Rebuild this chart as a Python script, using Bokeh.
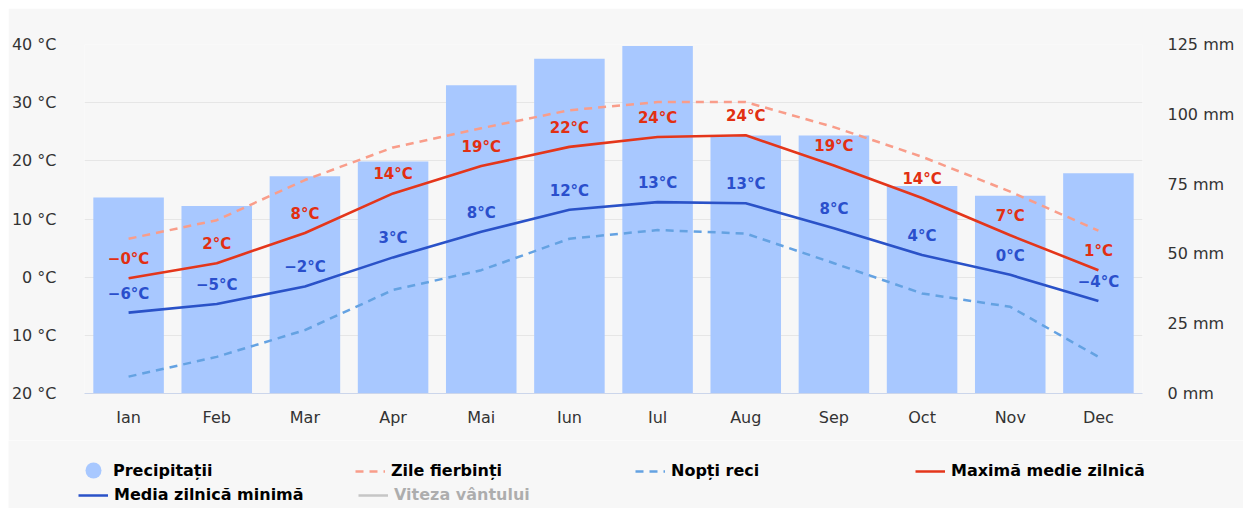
import math
from bokeh.plotting import figure
from bokeh.layouts import column
from bokeh.models import (Range1d, LinearAxis, FixedTicker, Legend, LegendItem,
                          ColumnDataSource, FactorRange)
from bokeh.core.properties import value
from bokeh.embed import file_html
from bokeh.resources import INLINE

months = ["Ian", "Feb", "Mar", "Apr", "Mai", "Iun", "Iul", "Aug", "Sep", "Oct", "Nov", "Dec"]
precip_mm = [70.2, 67.2, 77.8, 83.1, 110.4, 119.9, 124.5, 92.4, 92.4, 74.3, 70.8, 78.9]
max_temp = [-0.2, 2.4, 7.6, 14.4, 19.1, 22.4, 24.1, 24.4, 19.2, 13.6, 7.2, 1.2]
min_temp = [-6.1, -4.6, -1.6, 3.4, 7.8, 11.6, 12.9, 12.7, 8.4, 3.8, 0.4, -4.1]
hot_days = [6.6, 9.8, 16.7, 22.3, 25.6, 28.7, 30.1, 30.1, 25.8, 20.7, 14.7, 8.0]
cold_nights = [-17.1, -13.7, -9.1, -2.2, 1.2, 6.6, 8.1, 7.5, 2.4, -2.8, -5.1, -13.7]
wind_speed = [math.nan]  # hidden series (shown only in legend)

temp_ticks = [-20, -10, 0, 10, 20, 30, 40]
temp_tick_labels = ["20 °C", "10 °C", "0 °C", "10 °C", "20 °C", "30 °C", "40 °C"]
precip_ticks = [0, 25, 50, 75, 100, 125]
precip_tick_labels = ["0 mm", "25 mm", "50 mm", "75 mm", "100 mm", "125 mm"]

legend_labels = ["Precipitații", "Zile fierbinți", "Nopți reci", "Maximă medie zilnică",
                 "Media zilnică minimă", "Viteza vântului"]

FONT = "DejaVu Sans"
BG = "#f7f7f7"
C_BAR = "#a8c8ff"
C_MAX = "#e4361b"
C_MIN = "#2a52c8"
C_HOT = "#f99d8a"
C_COLD = "#64a2e2"
C_WIND = "#555555"


def fmt(v):
    return ("\u2212" if v < 0 else "") + f"{round(abs(v))}°C"


src = ColumnDataSource(dict(
    m=months, precip=precip_mm, tmax=max_temp, tmin=min_temp, hot=hot_days, cold=cold_nights,
    lmax=[fmt(v) for v in max_temp], lmin=[fmt(v) for v in min_temp],
))

# ---------------- main chart ----------------
p = figure(width=1235, height=432, x_range=FactorRange(*months), y_range=Range1d(-20, 40),
           output_backend="svg", toolbar_location=None,
           min_border_left=72, min_border_right=101, min_border_top=36, min_border_bottom=47)
p.margin = (8, 0, 0, 8)
p.frame_align = False
p.background_fill_color = BG
p.border_fill_color = BG
p.outline_line_color = None
p.extra_y_ranges = {"precip": Range1d(0, 125)}

xa = p.xaxis[0]
xa.axis_line_color = "#ccd6eb"
xa.major_tick_line_color = None
xa.minor_tick_line_color = None
xa.major_label_text_font = FONT
xa.major_label_text_font_size = "16px"
xa.major_label_text_color = "#333333"
xa.major_label_standoff = 8

ya = p.yaxis[0]
ya.ticker = FixedTicker(ticks=temp_ticks)
ya.major_label_overrides = {t: l for t, l in zip(temp_ticks, temp_tick_labels)}
ya.axis_line_color = None
ya.major_tick_line_color = None
ya.minor_tick_line_color = None
ya.major_label_text_font = FONT
ya.major_label_text_font_size = "16px"
ya.major_label_text_color = "#333333"
ya.major_label_standoff = 22

ra = LinearAxis(y_range_name="precip", ticker=FixedTicker(ticks=precip_ticks))
ra.major_label_overrides = {t: l for t, l in zip(precip_ticks, precip_tick_labels)}
ra.axis_line_color = None
ra.major_tick_line_color = None
ra.minor_tick_line_color = None
ra.major_label_text_font = FONT
ra.major_label_text_font_size = "16px"
ra.major_label_text_color = "#333333"
ra.major_label_standoff = 19
p.add_layout(ra, "right")

p.xgrid.grid_line_color = None
p.ygrid.grid_line_color = "#e6e6e6"
p.ygrid.ticker = FixedTicker(ticks=temp_ticks)

p.vbar(x="m", top="precip", bottom=0, width=0.8, source=src, y_range_name="precip",
       fill_color=C_BAR, line_color=None)
p.line(x="m", y="hot", source=src, line_color=C_HOT, line_width=2.5, line_dash="8 6")
p.line(x="m", y="cold", source=src, line_color=C_COLD, line_width=2.5, line_dash="8 6")
p.line(x="m", y="tmax", source=src, line_color=C_MAX, line_width=2.6)
p.line(x="m", y="tmin", source=src, line_color=C_MIN, line_width=2.6)

p.text(x="m", y="tmax", text="lmax", source=src, text_font=value(FONT), text_font_style="bold",
       text_font_size="15px", text_align="center", text_baseline="middle", y_offset=-19,
       text_color="#e22f12")
p.text(x="m", y="tmin", text="lmin", source=src, text_font=value(FONT), text_font_style="bold",
       text_font_size="15px", text_align="center", text_baseline="middle", y_offset=-19,
       text_color="#2a4fcc")

# ---------------- legend strip ----------------
lf = figure(width=1235, height=68, x_range=Range1d(0, 1), y_range=Range1d(0, 1),
            output_backend="svg", toolbar_location=None, x_axis_type=None, y_axis_type=None,
            min_border=0)
lf.margin = (0, 0, 0, 8)
lf.frame_align = False
lf.background_fill_color = BG
lf.border_fill_color = BG
lf.outline_line_color = None
lf.grid.visible = False

nan = [math.nan]
g_precip = lf.scatter(x=nan, y=nan, marker="circle", size=17, fill_color=C_BAR, line_color=None)
g_hot = lf.line(x=nan, y=nan, line_color=C_HOT, line_width=2.5, line_dash="8 6")
g_cold = lf.line(x=nan, y=nan, line_color=C_COLD, line_width=2.5, line_dash="8 6")
g_max = lf.line(x=nan, y=nan, line_color=C_MAX, line_width=2.5)
g_min = lf.line(x=nan, y=nan, line_color=C_MIN, line_width=2.5)
g_wind = lf.line(x=wind_speed, y=wind_speed, line_color=C_WIND, line_width=2.5)
g_wind.visible = False

items = [LegendItem(label=l, renderers=[r]) for l, r in
         zip(legend_labels, [g_precip, g_hot, g_cold, g_max, g_min, g_wind])]

common = dict(orientation="horizontal", padding=0, margin=0, spacing=4,
              label_width=240, label_text_font=FONT,
              label_text_font_size="16px", label_text_font_style="bold",
              label_text_color="#000000", background_fill_alpha=0, border_line_alpha=0,
              inactive_fill_color=BG, inactive_fill_alpha=0.7, click_policy="hide")

# row 1, first column (large circle marker)
leg_a = Legend(items=items[0:1], ncols=1, location=(65, 12), glyph_width=40, glyph_height=52,
               label_height=52, label_standoff=0, **common)
# row 1, columns 2-4
leg_b = Legend(items=items[1:4], ncols=3, location=(347, 28), glyph_width=30, glyph_height=16,
               label_height=16, label_standoff=6, **common)
# row 2, columns 1-2
leg_c = Legend(items=items[4:6], ncols=2, location=(70, 4), glyph_width=30, glyph_height=16,
               label_height=16, label_standoff=6, **common)
for lg in (leg_a, leg_b, leg_c):
    lf.add_layout(lg, "center")

layout = column(p, lf, spacing=0)
open("out.html", "w").write(file_html(layout, INLINE))
